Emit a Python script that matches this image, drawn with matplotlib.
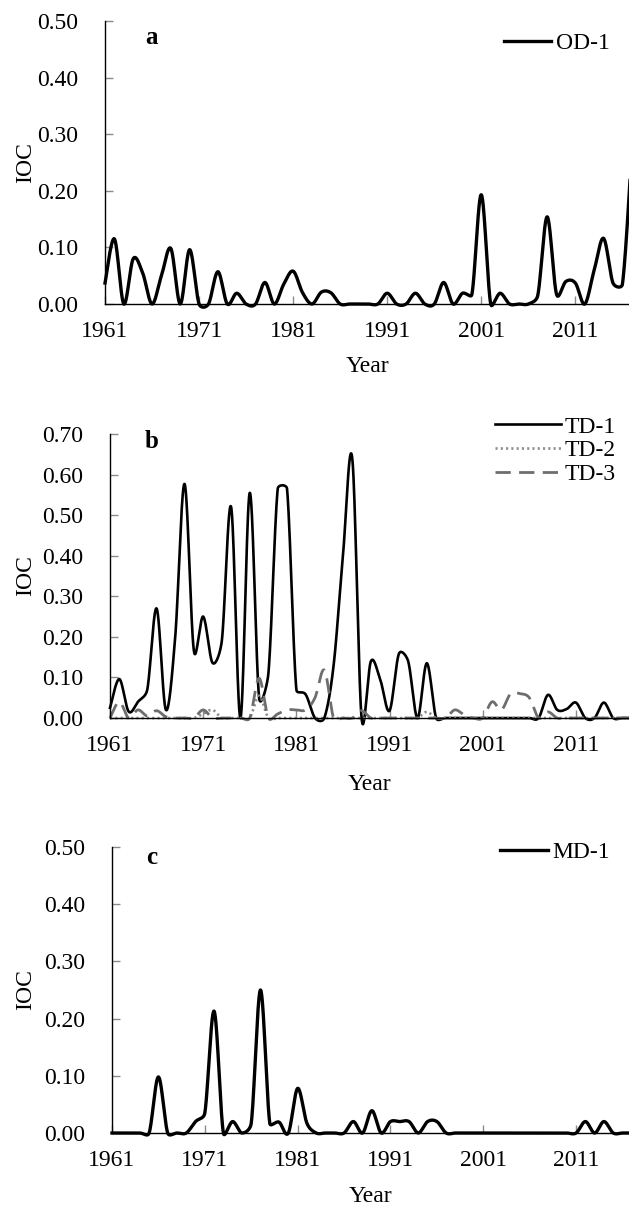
import numpy as np
import matplotlib
matplotlib.use('Agg')
import matplotlib.pyplot as plt

plt.rcParams['font.family'] = ['Liberation Serif', 'DejaVu Serif']

years = list(range(1961, 2018))
x_ticks = [1961, 1971, 1981, 1991, 2001, 2011]

od1 = [0.037, 0.115, 0.0, 0.080, 0.055, 0.0, 0.050, 0.098, 0.0, 0.096,
       0.0, 0.0, 0.057, 0.0, 0.019, 0.0, 0.0, 0.038, 0.0, 0.035,
       0.058, 0.020, 0.0, 0.021, 0.020, 0.0, 0.0, 0.0, 0.0, 0.0,
       0.019, 0.0, 0.0, 0.019, 0.0, 0.0, 0.038, 0.0, 0.019, 0.017,
       0.193, 0.0, 0.019, 0.0, 0.0, 0.0, 0.015, 0.154, 0.017, 0.040,
       0.037, 0.0, 0.060, 0.116, 0.037, 0.035, 0.270]

td1 = [0.025, 0.096, 0.016, 0.040, 0.070, 0.270, 0.020, 0.200, 0.577, 0.166,
       0.250, 0.136, 0.190, 0.520, 0.0, 0.555, 0.050, 0.110, 0.565, 0.565,
       0.070, 0.058, 0.0, 0.0, 0.130, 0.400, 0.640, 0.0, 0.140, 0.095,
       0.018, 0.158, 0.140, 0.0, 0.135, 0.0, 0.0, 0.0, 0.0, 0.0,
       0.0, 0.0, 0.0, 0.0, 0.0, 0.0, 0.0, 0.057, 0.020, 0.022,
       0.038, 0.0, 0.0, 0.038, 0.0, 0.0, 0.0]

td2 = [0.0, 0.0, 0.0, 0.0, 0.0, 0.0, 0.0, 0.0, 0.0, 0.0,
       0.010, 0.020, 0.0, 0.0, 0.0, 0.0, 0.055, 0.0, 0.0, 0.0,
       0.0, 0.0, 0.0, 0.0, 0.0, 0.0, 0.0, 0.0, 0.0, 0.0,
       0.0, 0.0, 0.0, 0.0, 0.015, 0.0, 0.0, 0.0, 0.0, 0.0,
       0.0, 0.0, 0.0, 0.0, 0.0, 0.0, 0.0, 0.0, 0.0, 0.0,
       0.0, 0.0, 0.0, 0.0, 0.0, 0.0, 0.0]

td3 = [0.0, 0.040, 0.0, 0.020, 0.005, 0.018, 0.003, 0.0, 0.0, 0.0,
       0.020, 0.0, 0.0, 0.0, 0.0, 0.0, 0.098, 0.0, 0.010, 0.020,
       0.020, 0.020, 0.050, 0.118, 0.0, 0.0, 0.0, 0.018, 0.0, 0.0,
       0.0, 0.0, 0.0, 0.0, 0.0, 0.0, 0.0, 0.020, 0.008, 0.0,
       0.0, 0.040, 0.020, 0.060, 0.060, 0.050, 0.0, 0.015, 0.0, 0.0,
       0.0, 0.0, 0.0, 0.0, 0.0, 0.0, 0.0]

md1 = [0.0, 0.0, 0.0, 0.0, 0.0, 0.098, 0.0, 0.0, 0.0, 0.020,
       0.035, 0.213, 0.0, 0.020, 0.0, 0.017, 0.250, 0.017, 0.019, 0.0,
       0.078, 0.017, 0.0, 0.0, 0.0, 0.0, 0.020, 0.0, 0.039, 0.0,
       0.020, 0.020, 0.020, 0.0, 0.020, 0.020, 0.0, 0.0, 0.0, 0.0,
       0.0, 0.0, 0.0, 0.0, 0.0, 0.0, 0.0, 0.0, 0.0, 0.0,
       0.0, 0.020, 0.0, 0.020, 0.0, 0.0, 0.0]

W, H = 629, 1209
XMAX = 2016.7
FS = 17


def smooth(x, y, ax, n=30):
    """Excel-like smoothed line: Bezier segments whose control points follow
    the neighbour chord (1/6) but never exceed half the segment length,
    measured in display space of the given axes."""
    pts = ax.transData.transform(np.column_stack([np.asarray(x, float),
                                                  np.asarray(y, float)]))
    m = len(pts)
    t = np.linspace(0, 1, n + 1)[1:, None]
    out = [pts[:1]]
    for i in range(m - 1):
        p0 = pts[i - 1] if i > 0 else pts[i]
        p1, p2 = pts[i], pts[i + 1]
        p3 = pts[i + 2] if i + 2 < m else pts[i + 1]
        d12 = np.hypot(*(p2 - p1))
        v1, v2 = p2 - p0, p3 - p1
        d02, d13 = np.hypot(*v1), np.hypot(*v2)
        f1 = min(1 / 6, d12 / 2 / d02) if d02 > 0 else 0
        f2 = min(1 / 6, d12 / 2 / d13) if d13 > 0 else 0
        c1 = p1 + v1 * f1
        c2 = p2 - v2 * f2
        seg = ((1 - t) ** 3) * p1 + 3 * ((1 - t) ** 2) * t * c1 \
            + 3 * (1 - t) * t ** 2 * c2 + t ** 3 * p2
        out.append(seg)
    R = ax.transData.inverted().transform(np.vstack(out))
    return R[:, 0], R[:, 1]


fig = plt.figure(figsize=(W / 100, H / 100), dpi=100)


def make_axes(left, top, bottom, ymax):
    ax = fig.add_axes([left / W, 1 - bottom / H, 1 - left / W, (bottom - top) / H])
    ax.set_xlim(1961, XMAX)
    ax.set_ylim(0, ymax)
    ax.set_xticks(x_ticks)
    ax.set_xticklabels([str(v) for v in x_ticks])
    yt = np.round(np.arange(0, ymax + 1e-9, 0.1), 2)
    ax.set_yticks(yt)
    ax.set_yticklabels([f'{v:.2f}' for v in yt])
    for s in ['top', 'right']:
        ax.spines[s].set_visible(False)
    for s in ['left', 'bottom']:
        ax.spines[s].set_linewidth(1.0)
        ax.spines[s].set_color('black')
    ax.tick_params(axis='both', direction='in', length=6, width=1,
                   color='#8a8a8a', labelsize=FS, labelcolor='black')
    ax.tick_params(axis='y', pad=19)
    ax.tick_params(axis='x', pad=12)
    ax.patch.set_alpha(0)
    return ax


def labels(left, top, bottom, letter, letter_y, year_y):
    fig.text(26 / W, 1 - (top + bottom) / 2 / H, 'IOC', rotation=90,
             ha='center', va='center', fontsize=FS)
    fig.text((left + W) / 2 / W, 1 - year_y / H, 'Year',
             ha='center', va='center', fontsize=FS)
    fig.text(152 / W, 1 - letter_y / H, letter, ha='center', va='center',
             fontsize=FS + 1, fontweight='bold')


# Panel a
la, ta, ba = 105, 21, 304
ax1 = make_axes(la, ta, ba, 0.5)
xs, ys = smooth(years, od1, ax1)
ax1.plot(xs, ys, color='black', lw=2.4, clip_on=False, label='OD-1')
labels(la, ta, ba, 'a', 38, 366)
ax1.legend(loc='center right', bbox_to_anchor=(610 / W, 1 - 43 / H),
           bbox_transform=fig.transFigure, frameon=False, fontsize=FS,
           handlelength=2.0, handletextpad=0.2, borderaxespad=0, borderpad=0)

# Panel b
lb, tb, bb = 110, 434, 718
ax2 = make_axes(lb, tb, bb, 0.7)
xs, ys = smooth(years, td1, ax2)
ax2.plot(xs, ys, color='black', lw=1.9, clip_on=False, label='TD-1')
xs, ys = smooth(years, td2, ax2)
ax2.plot(xs, ys, color='#8c8c8c', lw=1.9, ls=(0, (0.8, 1.2)),
         clip_on=False, label='TD-2')
xs, ys = smooth(years, td3, ax2)
ax2.plot(xs, ys, color='#6e6e6e', lw=2.0, ls=(0, (5.5, 3)),
         clip_on=False, label='TD-3')
labels(lb, tb, bb, 'b', 441, 785)
ax2.legend(loc='upper right', bbox_to_anchor=(616 / W, 1 - 416 / H),
           bbox_transform=fig.transFigure, frameon=False, fontsize=FS,
           handlelength=2.8, handletextpad=0.15, labelspacing=0.1,
           borderaxespad=0, borderpad=0)

# Panel c
lc, tc, bc = 112, 847, 1133
ax3 = make_axes(lc, tc, bc, 0.5)
xs, ys = smooth(years, md1, ax3)
ax3.plot(xs, ys, color='black', lw=2.4, clip_on=False, label='MD-1')
labels(lc, tc, bc, 'c', 857, 1197)
ax3.legend(loc='center right', bbox_to_anchor=(610 / W, 1 - 852 / H),
           bbox_transform=fig.transFigure, frameon=False, fontsize=FS,
           handlelength=2.0, handletextpad=0.2, borderaxespad=0, borderpad=0)

fig.savefig('out.png', dpi=100, facecolor='white')
